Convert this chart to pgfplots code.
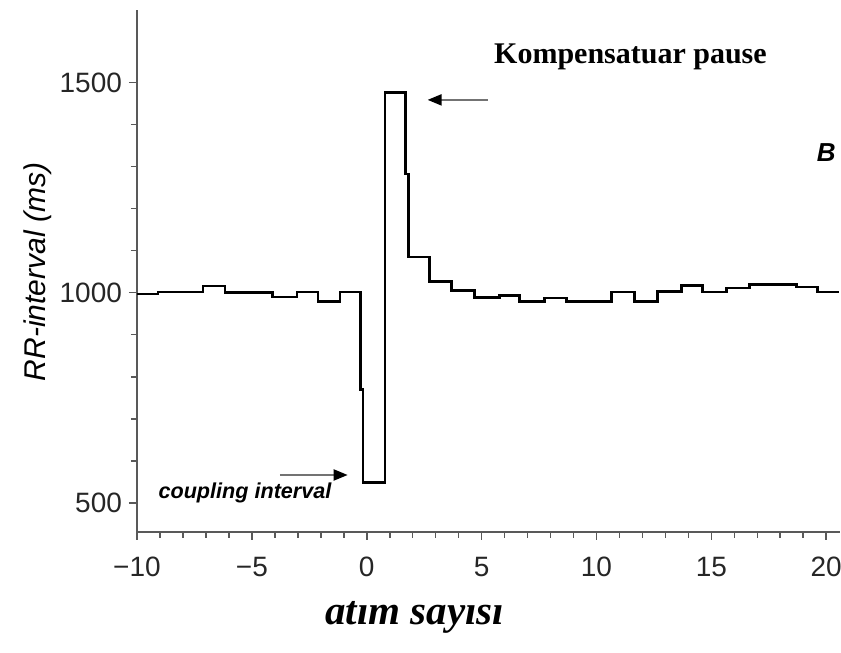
\documentclass[border=0pt]{standalone}
\usepackage{fontspec}
\setmainfont{Liberation Serif}
\setsansfont{Liberation Sans}
\usepackage{pgfplots}
\pgfplotsset{compat=1.18}
\usetikzlibrary{arrows.meta}

\begin{document}
\begin{tikzpicture}
\begin{axis}[
    name=ax,
    scale only axis,
    width=351.5pt, height=260.85pt,
    xmin=-10, xmax=20.6,
    ymin=431, ymax=1673,
    axis x line*=bottom,
    axis y line*=left,
    axis line style={draw=black!65, line width=1pt},
    tick align=outside,
    tick style={draw=black!65, line width=0.8pt},
    major tick length=4pt,
    minor tick length=3pt,
    xtick={-10,-5,0,5,10,15,20},
    xticklabels={−10,−5,0,5,10,15,20},
    ytick={500,1000,1500},
    yticklabels={500,1000,1500},
    minor x tick num=4,
    minor y tick num=4,
    ticklabel style={font=\sffamily\fontsize{14}{16}\selectfont, text=black!85},
    xticklabel style={yshift=-5pt},
    clip=false,
]

% RR-interval, one step per beat
\addplot[const plot, black, line width=1.3pt] coordinates {
    (-10,997) (-9.09,1002) (-7.13,1016) (-6.17,1001) (-4.09,990)
    (-3.04,1002) (-2.13,979) (-1.17,1002) (-0.26,770) (-0.17,548)
    (0.80,1476) (1.68,1283) (1.83,1085) (2.74,1026) (3.70,1005)
    (4.70,988) (5.78,994) (6.65,979) (7.74,987) (8.70,979)
    (10.65,1002) (11.65,979) (12.65,1003) (13.70,1017) (14.61,1002)
    (15.65,1011) (16.65,1019) (18.70,1014) (19.61,1002) (20.57,1002)
};

% annotations
\draw[black!55, line width=1pt, -{Triangle[length=7pt,width=5.5pt,color=black]}]
    (axis cs:5.26,1459) -- (axis cs:2.65,1459);
\draw[black!55, line width=1pt, -{Triangle[length=7pt,width=5.5pt,color=black]}]
    (axis cs:-3.78,566) -- (axis cs:-0.83,566);

\node[font=\bfseries\fontsize{15}{17}\selectfont] at (axis cs:11.48,1561) {Kompensatuar pause};
\node[font=\sffamily\bfseries\itshape\fontsize{13}{15}\selectfont] at (axis cs:20.0,1333) {B};
\node[font=\sffamily\bfseries\itshape\fontsize{10.8}{12}\selectfont] at (axis cs:-5.30,523) {coupling interval};
\node[font=\bfseries\itshape\fontsize{20.5}{24}\selectfont] at (axis cs:2.09,228) {atım sayısı};
\node[font=\sffamily\itshape\fontsize{15}{17}\selectfont, rotate=90] at (axis cs:-14.3,1049) {RR-interval (ms)};
\end{axis}
\pgfresetboundingbox
\path ([shift={(-68.5pt,-60.65pt)}]ax.south west) rectangle ([shift={(0.5pt,5pt)}]ax.north east);
\end{tikzpicture}
\end{document}
